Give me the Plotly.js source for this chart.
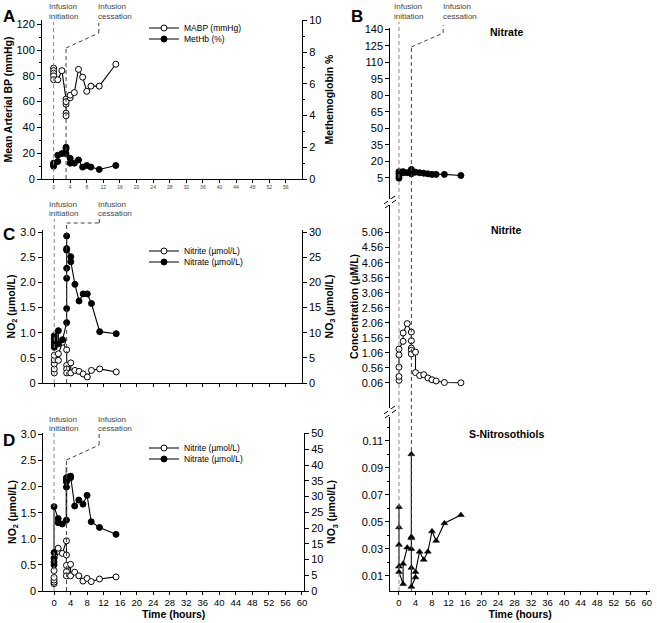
<!DOCTYPE html>
<html><head><meta charset="utf-8">
<script src="https://cdn.plot.ly/plotly-3.0.1.min.js"></script>
<style>html,body{margin:0;padding:0;background:#fff}#chart{width:657px;height:623px}</style>
</head><body><div id="chart"></div>
<script>
// ---------------- DATA ----------------
// Panel A
const tA_MABP = [0,0,0,0,0,1,2,3,3,3,3,3,4,4,5,6,7,8,9,11,15];
const vA_MABP = [86,84,82,80,77,77,84,62,58,51,49,60,63,65,67,85,79,68,72,72,89];
const tA_MetHb = [0,0,0,1,1,2,3,3,3,4,4,5,6,7,8,9,11,15];
const vA_MetHb = [0.8,0.9,1.0,1.1,1.5,1.6,1.6,2.0,1.9,1.3,1.0,1.0,1.2,0.75,0.85,0.75,0.6,0.85];
// Panel C
const tC_nitrite = [0,0,0,0,0,1,1,2,3,3,3,3,4,4,5,6,7,8,9,11,15];
const vC_nitrite = [0.20,0.28,0.38,0.46,0.55,0.45,0.58,0.81,0.66,0.35,0.28,0.20,0.40,0.20,0.25,0.23,0.18,0.12,0.25,0.28,0.22];
const tC_nitrate = [0,0,0,0,0,1,1,2,3,3,3,3,3,3,3,4,4,5,6,7,8,9,11,15];
const vC_nitrate = [7.1,7.6,8.1,8.8,9.4,10.4,7.8,8.6,12.0,14.8,20.8,22.8,26.4,29.2,26.7,25.1,24.1,19.6,16.3,17.7,17.7,15.8,10.2,9.8];
// Panel D
const tD_nitrite = [0,0,0,0,0,1,1,2,3,3,3,3,3,4,4,5,6,7,8,9,11,15];
const vD_nitrite = [0.14,0.17,0.21,0.26,0.39,0.76,0.82,0.72,0.96,0.69,0.49,0.37,0.29,0.51,0.29,0.36,0.29,0.19,0.24,0.18,0.23,0.27];
const tD_nitrate = [0,0,0,0,0,1,1,2,3,3,3,3,3,4,4,5,6,7,8,9,11,15];
const vD_nitrate = [8.3,9.2,10.4,12.2,26.8,23.0,21.7,21.3,22.5,33.0,34.7,35.3,36.0,36.0,36.5,27.0,28.9,27.6,30.4,22.0,20.2,18.0];
const tD_bar = [3,3];
const vD_bar = [22.5,39.5];
// Panel B
const tB_nitrate = [0,0,0,0,1,1,2,3,3,3,4,5,6,7,8,9,11,15];
const vB_nitrate = [4.5,6.5,8.5,10.5,9.5,10.5,9.5,8.5,10.5,12.5,10,9.5,9,8.5,8,8,8,7];
const tB_nitrite = [0,0,0,0,0,1,1,2,3,3,3,3,3,4,4,5,6,7,8,9,11,15];
const vB_nitrite = [0.14,0.27,0.58,0.99,1.18,1.44,1.72,2.03,1.75,1.46,1.22,1.14,1.02,1.08,0.40,0.30,0.33,0.22,0.16,0.12,0.07,0.06];
const tB_sno = [0,0,0,0,0,1,1,2,3,3,3,3,3,3,4,4,5,6,7,8,9,11,15];
const vB_sno = [0.061,0.046,0.033,0.017,0.013,0.004,0.019,0.031,0.030,0.038,0.039,0.100,0.016,0.002,0.009,0.013,0.028,0.022,0.028,0.043,0.036,0.049,0.055];

// Event times (hours)
const infusionStart = 0;
const infusionEnd = 3;

// Tick labels
const xTicks = [0,4,8,12,16,20,24,28,32,36,40,44,48,52,56,60];
const xTickText = ['0','4','8','12','16','20','24','28','32','36','40','44','48','52','56','60'];
const xTickTextA = ['0','4','8','12','16','20','24','28','32','36','40','44','48','52','56',''];
const yA_left = [0,20,40,60,80,100,120];
const yA_right = [0,2,4,6,8,10];
const yNO2 = [0,0.5,1,1.5,2,2.5,3];
const yNO2Text = ['0','0.5','1.0','1.5','2.0','2.5','3.0'];
const yC_right = [0,5,10,15,20,25,30];
const yD_right = [0,5,10,15,20,25,30,35,40,45,50];
const yB_nitrate = [5,20,35,50,65,80,95,110,125,140];
const yB_nitrite = [0.06,0.56,1.06,1.56,2.06,2.56,3.06,3.56,4.06,4.56,5.06];
const yB_nitriteText = ['0.06','0.56','1.06','1.56','2.06','2.56','3.06','3.56','4.06','4.56','5.06'];
const yB_sno = [0.01,0.03,0.05,0.07,0.09,0.11];
const yB_snoText = ['0.01','0.03','0.05','0.07','0.09','0.11'];
const yB_snoMinor = [0.02,0.04,0.06,0.08,0.10,0.12];

// ---------------- LAYOUT HELPERS ----------------
const W = 657, H = 623;
const X = p => p / W;
const Y = p => 1 - p / H;
const FONT = "'Liberation Sans', Arial, sans-serif";

const openM = {symbol:'circle', size:6, color:'#fff', line:{color:'#000', width:1}};
const fillM = {symbol:'circle', size:6, color:'#000', line:{color:'#000', width:1}};
const triM = {symbol:'triangle-up', size:6, color:'#000', line:{color:'#000', width:0.5}};
const ln = {color:'#000', width:1.1};

const traces = [
  {x:tA_MABP, y:vA_MABP, xaxis:'x', yaxis:'y', mode:'lines+markers', name:'MABP (mmHg)', line:ln, marker:openM, legend:'legend'},
  {x:tA_MetHb, y:vA_MetHb, xaxis:'x', yaxis:'y2', mode:'lines+markers', name:'MetHb (%)', line:ln, marker:fillM, legend:'legend2'},
  {x:tC_nitrite, y:vC_nitrite, xaxis:'x2', yaxis:'y3', mode:'lines+markers', name:'Nitrite (µmol/L)', line:ln, marker:openM, legend:'legend3'},
  {x:tC_nitrate, y:vC_nitrate, xaxis:'x2', yaxis:'y4', mode:'lines+markers', name:'Nitrate (µmol/L)', line:ln, marker:fillM, legend:'legend4'},
  {x:tD_bar, y:vD_bar, xaxis:'x3', yaxis:'y6', mode:'lines', line:{color:'#999', width:2}, showlegend:false, hoverinfo:'skip'},
  {x:tD_nitrite, y:vD_nitrite, xaxis:'x3', yaxis:'y5', mode:'lines+markers', name:'Nitrite (µmol/L)', line:ln, marker:openM, legend:'legend5'},
  {x:tD_nitrate, y:vD_nitrate, xaxis:'x3', yaxis:'y6', mode:'lines+markers', name:'Nitrate (µmol/L)', line:ln, marker:fillM, legend:'legend6'},
  {x:tB_nitrate, y:vB_nitrate, xaxis:'x4', yaxis:'y7', mode:'lines+markers', name:'Nitrate', line:ln, marker:fillM, showlegend:false},
  {x:tB_nitrite, y:vB_nitrite, xaxis:'x4', yaxis:'y8', mode:'lines+markers', name:'Nitrite', line:ln, marker:openM, showlegend:false},
  {x:tB_sno, y:vB_sno, xaxis:'x4', yaxis:'y9', mode:'lines+markers', name:'S-Nitrosothiols', line:ln, marker:triM, showlegend:false}
];

const base = {showline:true, linecolor:'#000', linewidth:1, ticks:'outside', ticklen:4, tickwidth:1, tickcolor:'#000',
  showgrid:false, zeroline:false, fixedrange:true, tickfont:{family:FONT, size:11, color:'#000'}, tickmode:'array'};
const ttl = (text, standoff) => ({text:'<b>'+text+'</b>', font:{family:FONT, size:10.5, color:'#000'}, standoff:standoff});
const ax = o => Object.assign({}, base, o);

function legendAt(xp, yp) {
  return {x:X(xp), y:Y(yp), xanchor:'left', yanchor:'middle', bgcolor:'rgba(0,0,0,0)', borderwidth:0,
    font:{family:FONT, size:8.5, color:'#000'}, itemwidth:30, tracegroupgap:0};
}

const layout = {
  width:W, height:H, margin:{l:0,r:0,t:0,b:0}, paper_bgcolor:'#fff', plot_bgcolor:'rgba(0,0,0,0)',
  showlegend:true, hovermode:false,
  legend:legendAt(144,28), legend2:legendAt(144,39),
  legend3:legendAt(144,251), legend4:legendAt(144,262),
  legend5:legendAt(144,448), legend6:legendAt(144,459),
  // Panel A
  xaxis: ax({domain:[X(42),X(302)], range:[-2.8,59.9], anchor:'y', tickvals:xTicks, ticktext:xTickTextA, ticklen:3,
    tickfont:{family:FONT, size:5, color:'#444'}}),
  yaxis: ax({domain:[Y(179),Y(20)], range:[0,123.3], anchor:'x', tickvals:yA_left, ticktext:yA_left.map(String),
    minor:{dtick:10, ticks:'outside', ticklen:2, tickcolor:'#000'}, title:ttl('Mean Arterial BP (mmHg)', 1)}),
  yaxis2: ax({domain:[Y(179),Y(20)], range:[0,10.02], anchor:'x', overlaying:'y', side:'right', tickvals:yA_right, ticktext:yA_right.map(String),
    minor:{dtick:1, ticks:'outside', ticklen:2, tickcolor:'#000'}, title:ttl('Methemoglobin %', 5)}),
  // Panel C
  xaxis2: ax({domain:[X(42.7),X(301.7)], range:[-2.8,59.9], anchor:'y3', tickvals:xTicks, showticklabels:false, ticklen:3}),
  yaxis3: ax({domain:[Y(383),Y(230)], range:[0,3.04], anchor:'x2', tickvals:yNO2, ticktext:yNO2Text, title:ttl('NO<sub>2</sub> (µmol/L)', 2)}),
  yaxis4: ax({domain:[Y(383),Y(230)], range:[0,30.4], anchor:'x2', overlaying:'y3', side:'right', tickvals:yC_right, ticktext:yC_right.map(String),
    title:ttl('NO<sub>3</sub> (µmol/L)', 5)}),
  // Panel D
  xaxis3: ax({domain:[X(43.3),X(304)], range:[-2.6,60.5], anchor:'y5', tickvals:xTicks, ticktext:xTickText, ticklen:3,
    tickfont:{family:FONT, size:9.5, color:'#000'}, title:ttl('Time (hours)', 3)}),
  yaxis5: ax({domain:[Y(591),Y(433)], range:[0,3.025], anchor:'x3', tickvals:yNO2, ticktext:yNO2Text, title:ttl('NO<sub>2</sub> (µmol/L)', 2)}),
  yaxis6: ax({domain:[Y(591),Y(433)], range:[0,50.2], anchor:'x3', overlaying:'y5', side:'right', tickvals:yD_right, ticktext:yD_right.map(String),
    title:ttl('NO<sub>3</sub> (µmol/L)', 5)}),
  // Panel B
  xaxis4: ax({domain:[X(390.3),X(650)], range:[-2.1,60.8], anchor:'y9', tickvals:xTicks, ticktext:xTickText, ticklen:3,
    tickfont:{family:FONT, size:9.5, color:'#000'}, title:ttl('Time (hours)', 3)}),
  yaxis7: ax({domain:[Y(199),Y(28)], range:[-14.4,141.2], anchor:'x4', tickvals:yB_nitrate, ticktext:yB_nitrate.map(String)}),
  yaxis8: ax({domain:[Y(408),Y(205)], range:[-0.78,5.98], anchor:'x4', tickvals:yB_nitrite, ticktext:yB_nitriteText,
    title:ttl('Concentration (µM/L)', 1)}),
  yaxis9: ax({domain:[Y(591),Y(417)], range:[-0.0011,0.1275], anchor:'x4', tickvals:yB_sno, ticktext:yB_snoText,
    minor:{tickvals:yB_snoMinor, ticks:'outside', ticklen:2, tickcolor:'#000'}})
};

// Dashed event lines
const GRAY = '#8a8a8a', DARK = '#444';
const dashL = (xref, xv, ytop, ybot, color) => ({type:'line', xref:xref, yref:'paper', x0:xv, x1:xv, y0:Y(ybot), y1:Y(ytop),
  line:{color:color, width:1, dash:'4px,3px'}, layer:'above'});
const seg = (xref, xa, ya, xb, yb) => ({type:'line', xref:xref, yref:'paper', x0:xa, x1:xb, y0:Y(ya), y1:Y(yb),
  line:{color:DARK, width:1, dash:'4px,3px'}, layer:'above'});
const lead = 10.9;
const shapes = [
  dashL('x', infusionStart, 22, 179, GRAY), dashL('x', infusionEnd, 48, 179, DARK), seg('x', infusionEnd, 48, lead, 33), seg('x', lead, 33, lead, 23),
  dashL('x2', infusionStart, 219, 383, GRAY), dashL('x2', infusionEnd, 223, 383, DARK), seg('x2', infusionEnd, 223, lead, 223), seg('x2', lead, 223, lead, 218),
  dashL('x3', infusionStart, 432, 591, GRAY), dashL('x3', infusionEnd, 460, 591, DARK), seg('x3', infusionEnd, 460, lead, 445), seg('x3', lead, 445, lead, 434),
  dashL('x4', infusionStart, 22, 591, GRAY), dashL('x4', infusionEnd, 47, 591, DARK), seg('x4', infusionEnd, 47, 10.7, 33), seg('x4', 10.7, 33, 10.7, 25)
];
// axis break marks
const brk = (yc) => [
  {type:'line', xref:'paper', yref:'paper', x0:X(384), y0:Y(yc+2), x1:X(395), y1:Y(yc-6), line:{color:'#000', width:1}},
  {type:'line', xref:'paper', yref:'paper', x0:X(385), y0:Y(yc+6), x1:X(396), y1:Y(yc-2), line:{color:'#000', width:1}},
  {type:'rect', xref:'paper', yref:'paper', x0:X(388), y0:Y(yc+3), x1:X(392), y1:Y(yc-3), line:{width:0}, fillcolor:'#fff'}
];
layout.shapes = shapes.concat(brk(202), brk(412));

const note = (text, xp, yp, opts) => Object.assign({text:text, x:X(xp), y:Y(yp), xref:'paper', yref:'paper', showarrow:false,
  xanchor:'left', yanchor:'middle', font:{family:FONT, size:8, color:'#444'}}, opts || {});
const letter = (t, xp, yp) => note('<b>'+t+'</b>', xp, yp, {xanchor:'center', font:{family:FONT, size:17, color:'#000'}});
const sub = (t, xp, yp) => note('<b>'+t+'</b>', xp, yp, {xanchor:'center', font:{family:FONT, size:10.5, color:'#000'}});
layout.annotations = [
  letter('A', 9, 16), letter('B', 357, 16), letter('C', 9, 234), letter('D', 9, 441),
  note('Infusion', 47, 6), note('initiation', 47, 16), note('Infusion', 96, 6), note('cessation', 96, 16),
  note('Infusion', 47, 204), note('initiation', 47, 213), note('Infusion', 96, 204), note('cessation', 96, 213),
  note('Infusion', 47, 419), note('initiation', 47, 428), note('Infusion', 96, 419), note('cessation', 96, 428),
  note('Infusion', 392, 6), note('initiation', 392, 16), note('Infusion', 441, 6), note('cessation', 441, 16),
  sub('Nitrate', 506, 32), sub('Nitrite', 506, 230), sub('S-Nitrosothiols', 506, 434)
];

Plotly.newPlot('chart', traces, layout, {staticPlot:true, displayModeBar:false});
</script>
</body></html>
